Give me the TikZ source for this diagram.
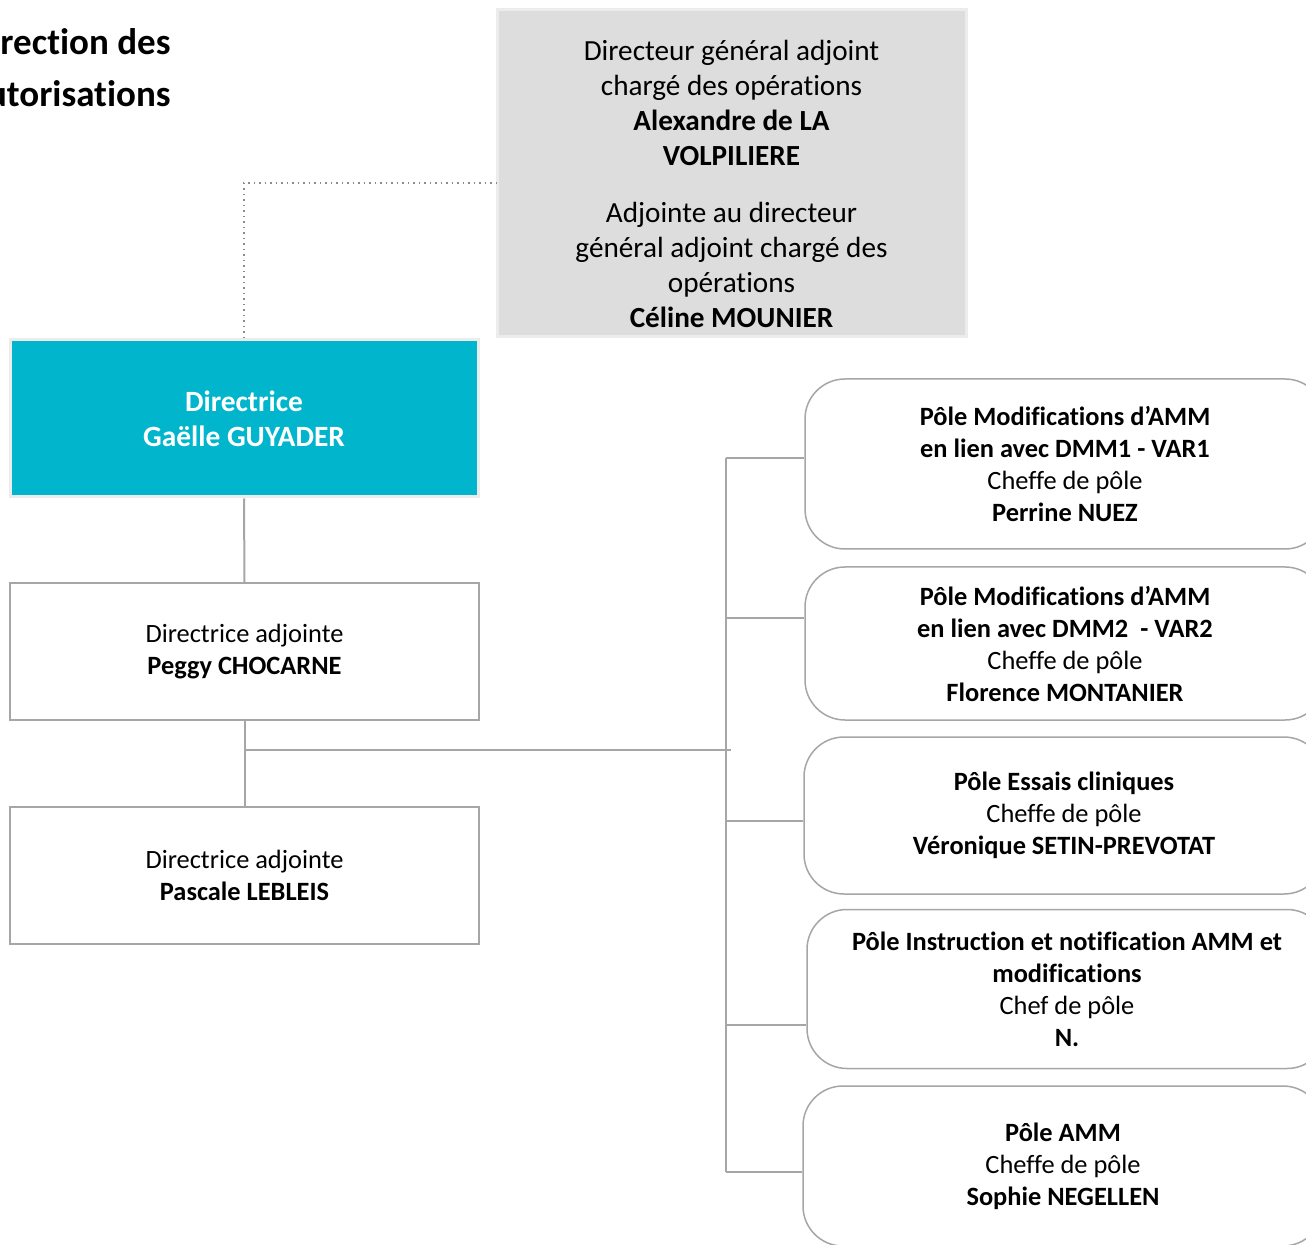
\documentclass[tikz,border=0pt]{standalone}
\usepackage{fontspec}
\setmainfont[Ligatures=NoCommon]{Carlito}
\usetikzlibrary{positioning}
\newlength{\du}
\setlength{\du}{0.5pt}
\definecolor{dialinecolor}{rgb}{0.650000, 0.650000, 0.650000}
\definecolor{diadotcolor}{rgb}{0.550000, 0.550000, 0.550000}
\definecolor{diradirfill}{rgb}{0.000000, 0.710000, 0.800000}
\definecolor{dgfillcolor}{rgb}{0.867000, 0.867000, 0.867000}
\definecolor{dgedgecolor}{rgb}{0.925000, 0.925000, 0.925000}

\begin{document}
\begin{tikzpicture}[
  orgline/.style={draw=dialinecolor, line width=2\du},
  dotline/.style={draw=diadotcolor, line width=1.5\du, dotted},
  dgbox/.style={draw=dgedgecolor, line width=3\du, fill=dgfillcolor, minimum width=469\du, minimum height=327\du},
  dirbox/.style={draw=dgedgecolor, line width=3\du, fill=diradirfill, minimum width=468\du, minimum height=157\du,
    align=center, text=white, font=\fontsize{14.7}{17.5}\selectfont\bfseries},
  adjbox/.style={draw=dialinecolor, line width=1.5\du, fill=white, minimum width=469\du, minimum height=137\du,
    align=center, font=\fontsize{13.2}{16}\selectfont},
  polebox/.style={draw=dialinecolor, line width=1.5\du, fill=white, rounded corners=20pt, minimum width=520\du,
    align=center, font=\fontsize{13.2}{16}\selectfont},
  dgtext/.style={align=center, inner sep=0pt, font=\fontsize{14.6}{17.5}\selectfont},
  titletext/.style={align=right, inner sep=0pt, font=\fontsize{18.5}{26}\selectfont\bfseries}
]
\pgftransformxscale{1.000000}
\pgftransformyscale{-1.000000}
\useasboundingbox (0\du,0\du) rectangle (1306\du,1245\du);
\clip (0\du,0\du) rectangle (1306\du,1245\du);

% title, cut on the left
\node[titletext, anchor=north east] (title) at (171\du,28\du) {Direction des\\autorisations};

% top box
\node[dgbox] (dg) at (731.5\du,173.5\du) {};
\node[dgtext] (dgtxt) at (731.5\du,184\du) {Directeur général adjoint\\chargé des opérations\\\textbf{Alexandre de LA}\\\textbf{VOLPILIERE}\\[11pt]
Adjointe au directeur\\général adjoint chargé des\\opérations\\\textbf{Céline MOUNIER}};

% left column
\node[dirbox] (dir) at (244\du,418.5\du) {Directrice\\Gaëlle GUYADER};
\node[adjbox] (adj1) at (244.5\du,651.5\du) {Directrice adjointe\\\textbf{Peggy CHOCARNE}};
\node[adjbox] (adj2) at (244.5\du,875.5\du) {Directrice adjointe\\\textbf{Pascale LEBLEIS}};

% poles
\node[polebox, minimum height=170\du] (pole1) at (1065\du,464\du) {\textbf{Pôle Modifications d’AMM}\\\textbf{en lien avec DMM1 - VAR1}\\Cheffe de pôle\\\textbf{Perrine NUEZ}};
\node[polebox, minimum height=153\du] (pole2) at (1065\du,643.5\du) {\textbf{Pôle Modifications d’AMM}\\\textbf{en lien avec DMM2 \ - VAR2}\\Cheffe de pôle\\\textbf{Florence MONTANIER}};
\node[polebox, minimum height=157\du] (pole3) at (1064\du,815.5\du) {\textbf{Pôle Essais cliniques}\\Cheffe de pôle\\\textbf{Véronique SETIN-PREVOTAT}};
\node[polebox, minimum height=159\du] (pole4) at (1067\du,989\du) {\textbf{Pôle Instruction et notification AMM et}\\\textbf{modifications}\\Chef de pôle\\\textbf{N.}};
\node[polebox, minimum height=160\du] (pole5) at (1063\du,1166\du) {\textbf{Pôle AMM}\\Cheffe de pôle\\\textbf{Sophie NEGELLEN}};

% connectors
\coordinate (dgtap) at (497\du,183\du);
\draw[dotline] (dgtap) -| (dir.north);
\draw[orgline] (dir.south) -- (adj1.north);
\draw[orgline] (adj1.south) -- (adj2.north);
\coordinate (adjtap) at (245\du,750\du);
\coordinate (busend) at (731\du,750\du);
\draw[orgline] (adjtap) -- (busend);
\coordinate (bustop) at (726\du,458\du);
\coordinate (busbot) at (726\du,1172\du);
\draw[orgline] (bustop) -- (busbot);
\foreach \p/\y in {pole1/458,pole2/618,pole3/821,pole4/1025,pole5/1172}{
  \coordinate (tap\p) at (726\du,\y\du);
  \draw[orgline] (tap\p) -- (tap\p -| \p.west);
}
\end{tikzpicture}
\end{document}
